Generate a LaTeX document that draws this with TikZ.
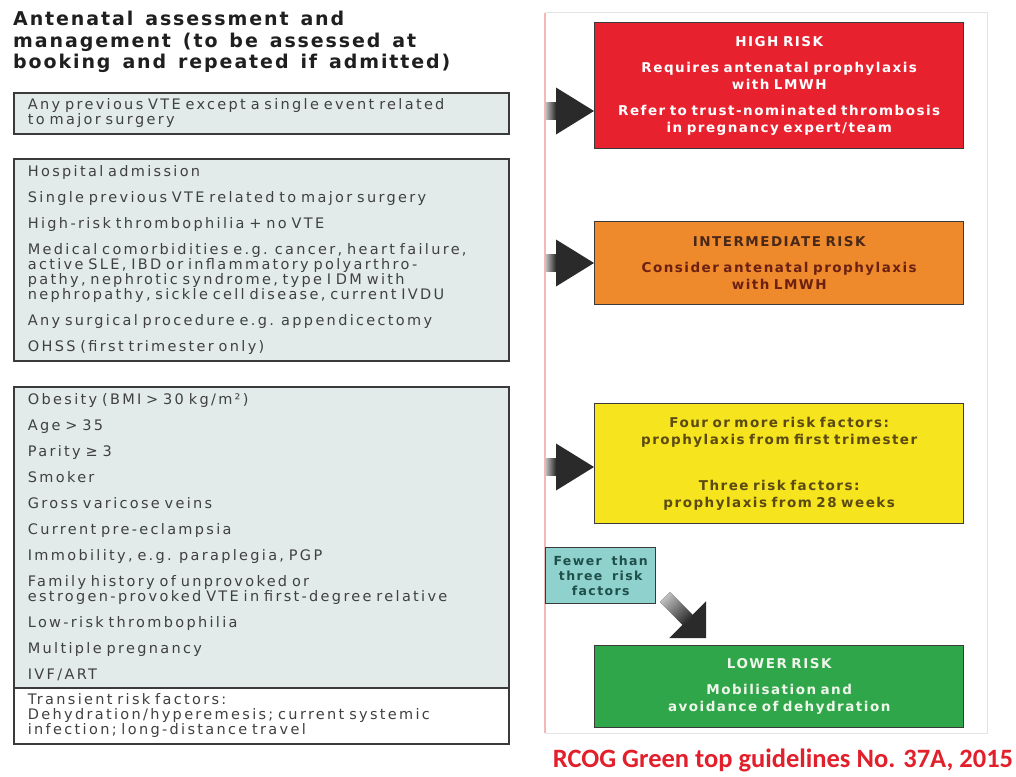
\documentclass[tikz,border=0pt]{standalone}
\usepackage{fontspec}
\usetikzlibrary{arrows.meta,calc}
\newfontfamily\bodyf[LetterSpace=16]{DejaVu Sans}
\newfontfamily\headf[LetterSpace=10,WordSpace=1.4]{DejaVu Sans}
\newfontfamily\rboxf[LetterSpace=11,WordSpace=1.7]{DejaVu Sans}
\newfontfamily\smallf[LetterSpace=11,WordSpace=1.7]{DejaVu Sans}
\newfontfamily\capf{Carlito}
\newcommand\mybodysetup{\bodyf\fontsize{14.5}{15}\selectfont\fontdimen2\font=9pt\relax}
\definecolor{leftfill}{HTML}{E2EBE9}
\definecolor{boxline}{HTML}{3A3A3A}
\definecolor{bodytext}{HTML}{404040}
\definecolor{redbox}{HTML}{E8212F}
\definecolor{orangebox}{HTML}{EE8A2C}
\definecolor{orangetext}{HTML}{6B2012}
\definecolor{orangehead}{HTML}{4A2818}
\definecolor{yellowbox}{HTML}{F6E51E}
\definecolor{yellowtext}{HTML}{5B4A12}
\definecolor{greenbox}{HTML}{2FA64A}
\definecolor{greentext}{HTML}{EEF6EA}
\definecolor{tealbox}{HTML}{8ED1CD}
\definecolor{tealtext}{HTML}{1F4F4A}
\definecolor{framegray}{HTML}{E4E4E4}
\definecolor{framepink}{HTML}{F2B9B9}
\definecolor{captionred}{HTML}{E1202B}
\definecolor{arrdark}{HTML}{2A2A2A}
\tikzset{
  lbox/.style={draw=boxline, line width=1.8pt, fill=leftfill, anchor=north west,
    text width=467pt, inner xsep=14pt, inner ysep=0pt, align=left, text=bodytext,
    font=\mybodysetup},
  rbox/.style={draw=boxline, line width=1.4pt, anchor=north west, minimum width=369pt,
    text width=359pt, inner xsep=5pt, inner ysep=0pt, align=center,
    font=\rboxf\bfseries\fontsize{13.5}{17}\selectfont},
  bigarr/.style={line width=17pt, draw=arrdark,
    -{Triangle[width=47pt,length=38pt,line width=0pt]}},
  diagarr/.style={line width=14pt, draw=arrdark,
    -{Triangle[width=52pt,length=26pt,line width=0pt]}},
}
\begin{document}
\begin{tikzpicture}[x=1pt,y=-1pt]
\useasboundingbox (0,0) rectangle (1016,776);
\fill[white] (0,0) rectangle (1016,776);

% title
\node[anchor=north west, align=left, inner sep=0pt, text=black!88,
  font=\headf\bfseries\fontsize{19}{21.5}\selectfont] (title) at (13,11)
  {Antenatal assessment and\\ management (to be assessed at\\ booking and repeated if admitted)};

% left boxes
\node[lbox, minimum height=41pt] (b1) at (13,92)
  {\mbox{Any previous VTE except a single event related}\\ to major surgery};
\node[lbox, minimum height=202pt] (b2) at (13,158)
  {Hospital admission\\[11pt]
   \mbox{Single previous VTE related to major surgery}\\[11pt]
   High-risk thrombophilia + no VTE\\[11pt]
   \mbox{Medical comorbidities e.g. cancer, heart failure,}\\
   \mbox{active SLE, IBD or inflammatory polyarthro-}\\
   \mbox{pathy, nephrotic syndrome, type I DM with}\\
   \mbox{nephropathy, sickle cell disease, current IVDU}\\[11pt]
   \mbox{Any surgical procedure e.g. appendicectomy}\\[11pt]
   OHSS (first trimester only)};
\node[lbox, minimum height=301pt] (b3) at (13,386)
  {Obesity (BMI > 30 kg/m²)\\[11pt]
   Age > 35\\[11pt]
   Parity ≥ 3\\[11pt]
   Smoker\\[11pt]
   Gross varicose veins\\[11pt]
   Current pre-eclampsia\\[11pt]
   Immobility, e.g. paraplegia, PGP\\[11pt]
   Family history of unprovoked or\\
   \mbox{estrogen-provoked VTE in first-degree relative}\\[11pt]
   Low-risk thrombophilia\\[11pt]
   Multiple pregnancy\\[11pt]
   IVF/ART};
\node[lbox, fill=white, minimum height=56pt] (b4) at (13,687)
  {Transient risk factors:\\
   \mbox{Dehydration/hyperemesis; current systemic}\\
   infection; long-distance travel};

% right frame
\draw[framegray, line width=1pt] (545,13) rectangle (987,733);
\draw[framepink, line width=1.2pt] (545,13) -- (545,733);

% right boxes
\node[rbox, fill=redbox, text=white, minimum height=126pt] (red) at (594,22)
  {HIGH RISK\\[9pt]
   Requires antenatal prophylaxis\\ with LMWH\\[9pt]
   \mbox{Refer to trust-nominated thrombosis}\\ in pregnancy expert/team};
\node[rbox, fill=orangebox, text=orangetext, minimum height=83pt] (orange) at (594,221)
  {\textcolor{orangehead}{INTERMEDIATE RISK}\\[9pt]
   Consider antenatal prophylaxis\\ with LMWH};
\node[rbox, fill=yellowbox, text=yellowtext, minimum height=120pt] (yellow) at (594,403)
  {Four or more risk factors:\\ prophylaxis from first trimester\\[29pt]
   Three risk factors:\\ prophylaxis from 28 weeks};
\node[rbox, fill=greenbox, text=greentext, minimum height=82pt] (green) at (594,645)
  {LOWER RISK\\[9pt]
   Mobilisation and\\ avoidance of dehydration};
\node[draw=boxline, line width=1.4pt, fill=tealbox, text=tealtext, anchor=north west,
  minimum width=110pt, minimum height=56pt, inner sep=0pt, align=center,
  font=\smallf\bfseries\fontsize{12.5}{15}\selectfont] (fewer) at (545,547)
  {Fewer than\\ three risk\\ factors};

% arrows
\coordinate (ar) at (545,111);
\coordinate (ao) at (545,263);
\coordinate (ay) at (545,467);
\foreach \c/\b in {ar/red, ao/orange, ay/yellow}{
  \draw[bigarr] (\c) -- (\c -| \b.west);
  \shade[left color=black!22, right color=arrdark]
    ($(\c)+(0,-8.5)$) rectangle ($(\c)+(11,8.5)$);
}
\coordinate (ds) at (665,597);
\coordinate (dt) at (706,638);
\draw[diagarr] (ds) -- (dt);
\shade[left color=black!25, right color=arrdark, shading angle=45]
  ($(ds)+(4.95,-4.95)$) -- ($(ds)+(-4.95,4.95)$) -- ($(ds)+(18.4,28.8)$) -- ($(ds)+(28.3,18.9)$) -- cycle;

% caption
\node[anchor=center, inner sep=0pt, text=captionred,
  font=\capf\bfseries\fontsize{26.5}{30}\selectfont] (cap) at (783,760)
  {RCOG Green top guidelines No. 37A, 2015};
\end{tikzpicture}
\end{document}
